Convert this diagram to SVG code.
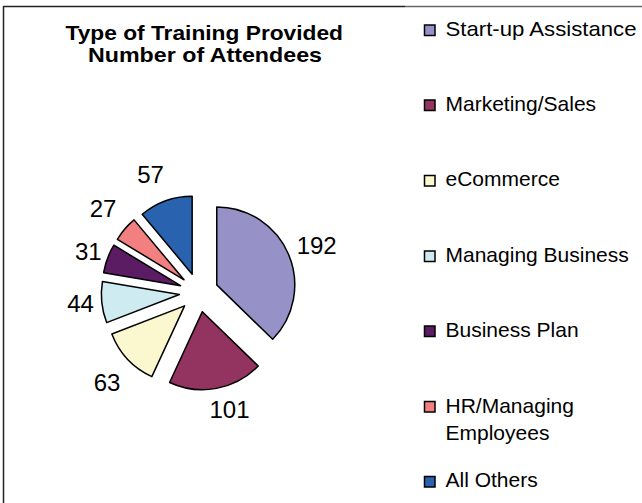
<svg xmlns="http://www.w3.org/2000/svg" width="642" height="503" viewBox="0 0 642 503">
<style>
text{font-family:"Liberation Sans",Arial,sans-serif;fill:#000}
.title{font-size:21px;font-weight:bold}
.lbl{font-size:24px;text-anchor:middle}
.leg{font-size:21px}
.slice{stroke:#000;stroke-width:1.5;stroke-linejoin:round}
.sw{stroke:#000;stroke-width:1.5}
</style>
<rect x="0" y="0" width="642" height="503" fill="#fff"/>
<g id="frame" fill="none">
<line x1="3.5" y1="6.5" x2="405" y2="6.5" stroke="#222" stroke-width="1.5"/>
<line x1="405" y1="6.5" x2="642" y2="6.5" stroke="#666" stroke-width="1.5"/>
<line x1="3.5" y1="6" x2="3.5" y2="503" stroke="#222" stroke-width="1.5"/>
</g>
<g id="title">
<text class="title" x="65.5" y="39.5" textLength="277.5" lengthAdjust="spacingAndGlyphs">Type of Training Provided</text>
<text class="title" x="88" y="62" textLength="234" lengthAdjust="spacingAndGlyphs">Number of Attendees</text>
</g>
<g id="pie">
<g id="slice-startup"><path class="slice" fill="#9692C8" d="M216.76,284.91 L216.76,206.91 A78,78 0 0 1 272.67,339.30 Z"/></g>
<g id="slice-marketing"><path class="slice" fill="#933360" d="M202.35,311.67 L258.26,366.06 A78,78 0 0 1 169.61,382.47 Z"/></g>
<g id="slice-ecommerce"><path class="slice" fill="#FBF8D0" d="M184.58,305.84 L151.84,376.64 A78,78 0 0 1 111.83,333.98 Z"/></g>
<g id="slice-managing"><path class="slice" fill="#CDEBF0" d="M179.40,294.46 L106.65,322.60 A78,78 0 0 1 102.49,281.43 Z"/></g>
<g id="slice-businessplan"><path class="slice" fill="#5C1C63" d="M180.53,285.69 L103.62,272.66 A78,78 0 0 1 113.88,245.18 Z"/></g>
<g id="slice-hr"><path class="slice" fill="#F28080" d="M184.02,279.78 L117.37,239.27 A78,78 0 0 1 134.05,219.89 Z"/></g>
<g id="slice-others"><path class="slice" fill="#2962AE" d="M192.16,274.17 L142.19,214.28 A78,78 0 0 1 192.16,196.17 Z"/></g>
</g>
<g id="data-labels">
<text class="lbl" x="316.7" y="254">192</text>
<text class="lbl" x="229.5" y="418.3">101</text>
<text class="lbl" x="107" y="391.3">63</text>
<text class="lbl" x="80.5" y="311.5">44</text>
<text class="lbl" x="88.3" y="259.5">31</text>
<text class="lbl" x="103" y="217.2">27</text>
<text class="lbl" x="150.6" y="183.4">57</text>
</g>
<g id="legend">
<g id="leg-startup"><rect class="sw" x="424.5" y="25" width="10.5" height="10.5" fill="#9692C8"/><text class="leg" x="445.5" y="35.5" textLength="191" lengthAdjust="spacingAndGlyphs">Start-up Assistance</text></g>
<g id="leg-marketing"><rect class="sw" x="424.5" y="100" width="10.5" height="10.5" fill="#933360"/><text class="leg" x="445.5" y="110.5">Marketing/Sales</text></g>
<g id="leg-ecommerce"><rect class="sw" x="424.5" y="175.5" width="10.5" height="10.5" fill="#FBF8D0"/><text class="leg" x="445.5" y="186">eCommerce</text></g>
<g id="leg-managing"><rect class="sw" x="424.5" y="251" width="10.5" height="10.5" fill="#CDEBF0"/><text class="leg" x="445.5" y="261.5">Managing Business</text></g>
<g id="leg-businessplan"><rect class="sw" x="424.5" y="326" width="10.5" height="10.5" fill="#5C1C63"/><text class="leg" x="445.5" y="336.5">Business Plan</text></g>
<g id="leg-hr"><rect class="sw" x="424.5" y="401.5" width="10.5" height="10.5" fill="#F28080"/><text class="leg" x="445.5" y="413">HR/Managing</text><text class="leg" x="445.5" y="440">Employees</text></g>
<g id="leg-others"><rect class="sw" x="424.5" y="476.5" width="10.5" height="10.5" fill="#2962AE"/><text class="leg" x="445.5" y="487">All Others</text></g>
</g>
</svg>
